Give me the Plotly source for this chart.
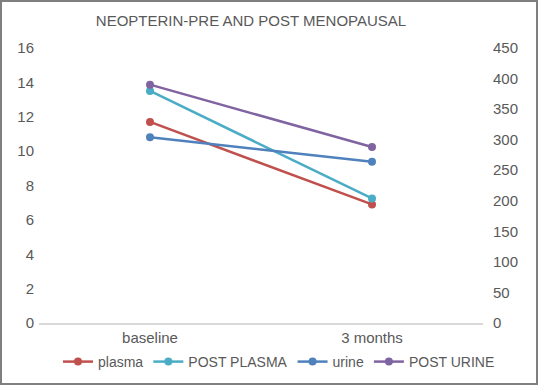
import plotly.graph_objects as go

categories = ["baseline", "3 months"]
plasma = [11.7, 6.9]
post_plasma = [13.5, 7.25]
urine = [304, 264]
post_urine = [390, 288]

W, H = 538, 385
ml, mr, mt, mb = 39, 55, 48, 62
pw, ph = W - ml - mr, H - mt - mb

fig = go.Figure()
series = [
    ("plasma", plasma, "#C0504D", "y"),
    ("POST PLASMA", post_plasma, "#4BACC6", "y"),
    ("urine", urine, "#4F81BD", "y2"),
    ("POST URINE", post_urine, "#8064A2", "y2"),
]
for name, vals, col, ax in series:
    fig.add_trace(go.Scatter(
        x=categories, y=vals, name=name, yaxis=ax,
        mode="lines+markers",
        line=dict(color=col, width=2.5),
        marker=dict(color=col, size=8),
    ))

font_col = "#595959"
fig.update_layout(
    width=W, height=H,
    margin=dict(l=ml, r=mr, t=mt, b=mb, autoexpand=False),
    paper_bgcolor="white", plot_bgcolor="white",
    font=dict(family="Liberation Sans, Arial, sans-serif", size=14, color=font_col),
    title=dict(text="NEOPTERIN-PRE AND POST MENOPAUSAL", x=(251 - ml) / pw, xref="paper",
               xanchor="center", y=1 - 21 / H, yanchor="middle",
               font=dict(size=15, color=font_col)),
    xaxis=dict(type="category", range=[-0.5, 1.5], showgrid=False, showline=True,
               linecolor="#D9D9D9", linewidth=1.5, ticks="", zeroline=False,
               automargin=False, tickfont=dict(size=15, color=font_col)),
    yaxis=dict(range=[0, 16], dtick=2, showgrid=False, zeroline=False, showline=False,
               ticks="", automargin=False, ticklabelstandoff=4,
               tickfont=dict(size=15, color=font_col)),
    yaxis2=dict(range=[0, 450], dtick=50, overlaying="y", side="right", showgrid=False,
                zeroline=False, showline=False, ticks="", automargin=False,
                ticklabelstandoff=9,
                tickfont=dict(size=15, color=font_col)),
    legend=dict(orientation="h", xref="container", yref="container",
                x=279 / W, xanchor="center", y=1 - 362 / H,
                yanchor="middle", font=dict(size=14, color=font_col),
                tracegroupgap=0, bgcolor="rgba(0,0,0,0)"),
    showlegend=True,
)
# outer frame
fig.add_shape(type="rect", xref="paper", yref="paper",
              x0=-(ml - 1) / pw, x1=1 + (mr - 1) / pw,
              y0=-(mb - 1) / ph, y1=1 + (mt - 1) / ph,
              line=dict(color="#7f7f7f", width=2))

fig.write_html("out.html", config={"displayModeBar": False},
               post_script="document.body.style.margin='0';")
